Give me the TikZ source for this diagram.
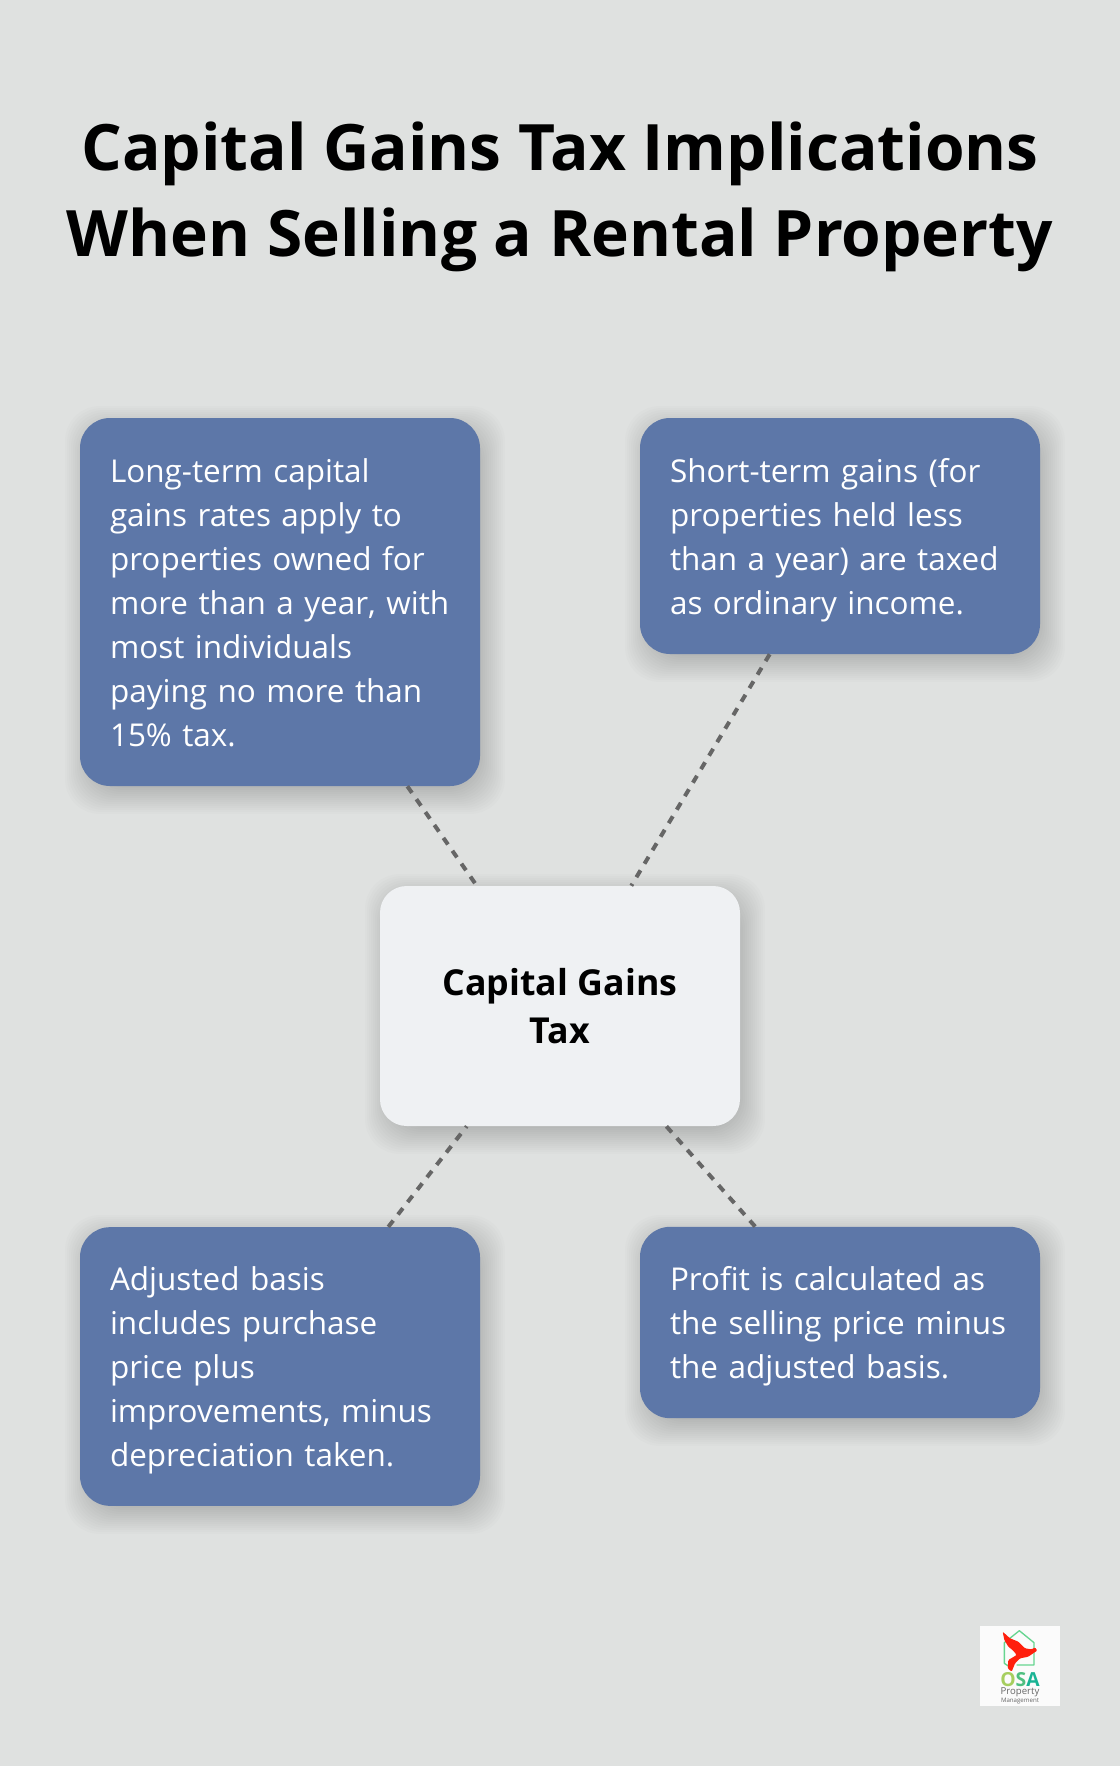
\documentclass[tikz,border=0pt]{standalone}
\usepackage{fontspec}
\setmainfont{Open Sans}

\definecolor{pagebg}{HTML}{DFE1E0}
\definecolor{cardblue}{HTML}{5D77A8}
\definecolor{centerbox}{HTML}{EFF1F3}
\definecolor{linkgray}{HTML}{666666}

\tikzset{
    softshadow/.style={fill=black, opacity=0.012, rounded corners=26pt},
    card/.style={fill=cardblue, rounded corners=22.5pt, text=white,
        text width=255pt, inner xsep=22.5pt, inner ysep=0pt, align=left,
        font=\fontsize{23.6pt}{33pt}\selectfont,
        execute at begin node={\rule{0pt}{24.2pt}},
        execute at end node={\rule[-5.7pt]{0pt}{5.7pt}}},
    hub/.style={fill=centerbox, rounded corners=20pt, minimum width=270pt, minimum height=180pt,
        align=center, font=\fontsize{26.8pt}{36pt}\selectfont\bfseries,
        execute at begin node={\rule{0pt}{23.5pt}}},
    link/.style={draw=linkgray, line width=3pt, dash pattern=on 6pt off 5.8pt},
}

\begin{document}
\begin{tikzpicture}[x=0.75pt,y=-0.75pt]
    % Draw the page
    \fill[pagebg] (0,0) rectangle (1120,1766);

    % Draw the title
    \node[align=center, font=\fontsize{48pt}{64.5pt}\selectfont\bfseries] (title) at (560,197)
        {Capital Gains Tax Implications\\When Selling a Rental Property};

    % Draw the shadows
    \foreach \xa/\ya/\xb/\yb in {80/418/480/786, 640/418/1040/654, 80/1227/480/1506, 640/1227/1040/1418, 380/886/740/1126} {
        \foreach \s in {-14,-12,...,20} {
            \fill[softshadow] ({\xa+5-\s},{\ya+8-\s}) rectangle ({\xb+5+\s},{\yb+8+\s});
        }
    }

    % Draw the cards
    \node[card, minimum height=276pt] (longterm) at (280,602)
        {Long-term capital\\gains rates apply to\\properties owned for\\more than a year, with\\most individuals\\paying no more than\\15\% tax.};
    \node[card, minimum height=177pt] (shortterm) at (840,536)
        {Short-term gains (for\\properties held less\\than a year) are taxed\\as ordinary income.};
    \node[card, minimum height=209pt] (basis) at (280,1366.5)
        {Adjusted basis\\includes purchase\\price plus\\improvements, minus\\depreciation taken.};
    \node[card, minimum height=143.5pt] (profit) at (840,1322.5)
        {Profit is calculated as\\the selling price minus\\the adjusted basis.};

    % Draw the center box
    \node[hub] (capgains) at (560,1006) {Capital Gains\\Tax};

    % Draw the dashed links
    \foreach \i in {longterm,shortterm,basis,profit} {
        \draw[link] (\i) -- (capgains);
    }

    % Draw the logo
    \begin{scope}[shift={(960,1610)},x=0.25pt,y=-0.25pt]
        \fill[white!97!gray] (60,48) rectangle (300,288);
        \draw[color=green!45!teal!60, line width=1pt, line join=round]
            (145,168) -- (133,160) -- (133,98) -- (178,62) -- (222,98) -- (222,165) -- (170,165);
        \fill[red!85!orange!95!white, rounded corners=0.8pt] (128,65) -- (150,85) -- (175,95) -- (195,115) -- (215,118) -- (225,112)
            -- (232,122) -- (222,128) -- (205,140) -- (180,145) -- (165,160) -- (155,185) -- (143,175)
            -- (145,150) -- (170,135) -- (160,122) -- (145,110) -- (133,90) -- cycle;
        \node[font=\fontsize{14.5pt}{15pt}\selectfont\bfseries, inner sep=0pt] (osa) at (180,208)
            {\textcolor[HTML]{A6CE5F}{O}\textcolor[HTML]{4FBF80}{S}\textcolor[HTML]{19B394}{A}};
        \node[font=\fontsize{7.2pt}{8pt}\selectfont, text=black!60, inner sep=0pt] (prop) at (180,247) {Property};
        \node[font=\fontsize{4.6pt}{5pt}\selectfont, text=black!60, inner sep=0pt] (mgmt) at (180,273) {Management};
    \end{scope}
\end{tikzpicture}
\end{document}
